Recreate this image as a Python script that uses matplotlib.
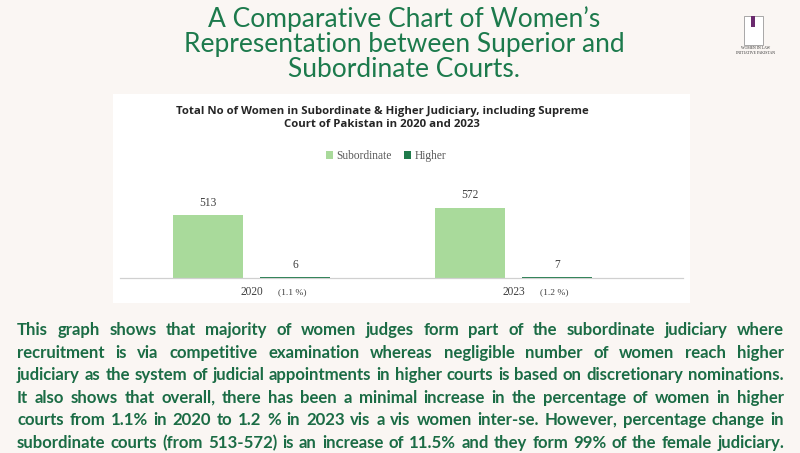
import matplotlib
matplotlib.use('Agg')
import matplotlib.pyplot as plt
from matplotlib.patches import Rectangle

# data
years = ['2020', '2023']
subordinate = [513, 572]
higher = [6, 7]
higher_pct = ['(1.1 %)', '(1.2 %)']

title = "A Comparative Chart of Women\u2019s\nRepresentation between Superior and\nSubordinate Courts."
chart_title = "Total No of Women in Subordinate & Higher Judiciary, including Supreme\nCourt of Pakistan in 2020 and 2023"
para_lines = [
    "This graph shows that majority of women judges form part of the subordinate judiciary where",
    "recruitment is via competitive examination whereas negligible number of women reach higher",
    "judiciary as the system of judicial appointments in higher courts is based on discretionary nominations.",
    "It also shows that overall, there has been a minimal increase in the percentage of women in higher",
    "courts from 1.1% in 2020 to 1.2 % in 2023 vis a vis women inter-se. However, percentage change in",
    "subordinate courts (from 513-572) is an increase of 11.5% and they form 99% of the female judiciary.",
]

BG = '#faf6f3'
GREEN = '#1c7a4c'
TEXT_GREEN = '#1b6c45'
LIGHT = '#a9da9b'
DARK = '#1f7b4b'
W, H = 800, 453

fig = plt.figure(figsize=(8, 4.53), dpi=100, facecolor=BG)

# white chart panel
fig.patches.append(Rectangle((113 / W, 1 - 303 / H), (690 - 113) / W, (303 - 94) / H,
                             transform=fig.transFigure, facecolor='white',
                             edgecolor='none', zorder=-5))

# main title
fig.text(404 / W, 1 - 44 / H, title, ha='center', va='center', fontsize=19,
         family=['Lato', 'DejaVu Sans'], color=GREEN, linespacing=1.0)

# logo (rough)
fig.patches.append(Rectangle((744 / W, 1 - 45 / H), 19 / W, 29 / H,
                             transform=fig.transFigure, facecolor='white',
                             edgecolor='#9a9a9a', lw=0.6))
fig.patches.append(Rectangle((751 / W, 1 - 27 / H), 4 / W, 11 / H,
                             transform=fig.transFigure, facecolor='#6b2a6e',
                             edgecolor='none'))
fig.text(756 / W, 1 - 48 / H, 'WOMEN IN LAW', ha='center', va='center',
         fontsize=2.8, family='Liberation Serif', color='#333333')
fig.text(756 / W, 1 - 53 / H, 'INITIATIVE PAKISTAN', ha='center', va='center',
         fontsize=2.8, family='Liberation Serif', color='#333333')

# chart title
fig.text(382 / W, 1 - 118 / H, chart_title, ha='center', va='center', fontsize=8.2,
         fontweight='bold', family=['Open Sans', 'DejaVu Sans'], color='#262626',
         linespacing=1.35)

# bar axes
ax = fig.add_axes([120 / W, 1 - 278 / H, (683 - 120) / W, 108 / H])
ax.set_facecolor('none')
x = [0, 1]
bw = 0.267
off = 0.166
b1 = ax.bar([i - off for i in x], subordinate, bw, color=LIGHT, label='Subordinate')
b2 = ax.bar([i + off for i in x], higher, bw, color=DARK, label='Higher')
ax.set_xlim(-0.502, 1.647)
ax.set_ylim(0, 881)
for s in ['top', 'right', 'left']:
    ax.spines[s].set_visible(False)
ax.spines['bottom'].set_color('#d0d0d0')
ax.spines['bottom'].set_linewidth(0.9)
ax.set_yticks([])
ax.set_xticks([])

serif = ['Liberation Serif', 'DejaVu Serif']
for bars, vals in [(b1, subordinate), (b2, higher)]:
    for r, v in zip(bars, vals):
        ax.annotate(str(v), (r.get_x() + r.get_width() / 2, r.get_height()),
                    xytext=(0, 9), textcoords='offset points', ha='center',
                    va='center', fontsize=8.3, family=serif, color='#404040')

for i, (yr, pct) in enumerate(zip(years, higher_pct)):
    ax.annotate(yr, (i, 0), xytext=(0, -10), textcoords='offset points',
                ha='center', va='center', fontsize=8.3, family=serif, color='#404040')
    ax.annotate(pct, (i + off, 0), xytext=(-2, -10), textcoords='offset points',
                ha='center', va='center', fontsize=6.8, family=serif, color='#404040')

leg = fig.legend(handles=[b1, b2], loc='center', bbox_to_anchor=(386 / W, 1 - 156 / H),
                 ncol=2, frameon=False, prop={'family': serif, 'size': 8.3},
                 handlelength=0.65, handleheight=0.65, handletextpad=0.3,
                 columnspacing=1.0, labelcolor='#595959')

# justified paragraph, font size fitted so the longest line fills the width
fig.canvas.draw()
rend = fig.canvas.get_renderer()
x0, x1 = 17, 784
ys = [330, 353, 375, 398, 420, 443]
pfam = ['Lato', 'DejaVu Sans']
probe = fig.text(0, 0, para_lines[2], fontsize=10, fontweight='bold', family=pfam)
psize = 10 * (x1 - x0 - 4) / probe.get_window_extent(rend).width
probe.remove()
pfont = dict(fontsize=psize, fontweight='bold', family=pfam,
             color=TEXT_GREEN, va='center', ha='left')
for line, yy in zip(para_lines, ys):
    words = line.split(' ')
    objs = [fig.text(0, 1 - yy / H, w, **pfont) for w in words]
    widths = [t.get_window_extent(rend).width for t in objs]
    gap = (x1 - x0 - sum(widths)) / (len(words) - 1)
    pos = x0
    for t, wd in zip(objs, widths):
        t.set_x(pos / W)
        pos += wd + gap

fig.savefig('out.png', dpi=100, facecolor=BG)
